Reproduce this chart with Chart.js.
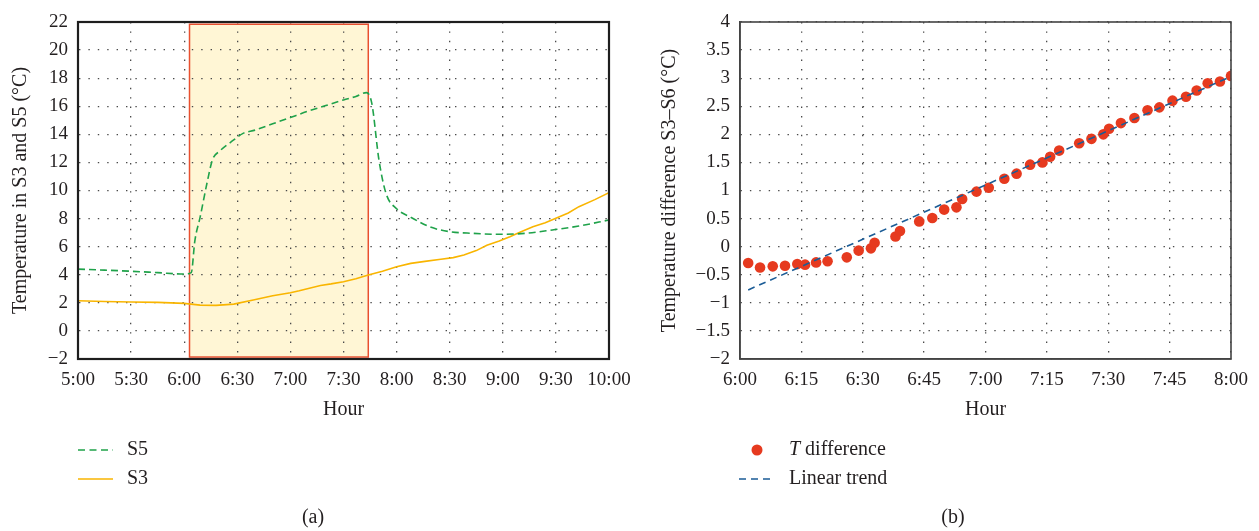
<!DOCTYPE html>
<html>
<head>
<meta charset="utf-8">
<script src="https://cdn.jsdelivr.net/npm/chart.js@4.4.1/dist/chart.umd.min.js"></script>
<style>
  html, body { margin: 0; padding: 0; background: #fff; }
  body { width: 1259px; height: 531px; position: relative; overflow: hidden; }
  #wrapA { position: absolute; left: 0; top: 0; width: 631px; height: 531px; }
  #wrapB { position: absolute; left: 640px; top: 0; width: 619px; height: 531px; }
</style>
</head>
<body>
<div id="wrapA"><canvas id="chartA"></canvas></div>
<div id="wrapB"><canvas id="chartB"></canvas></div>
<script>
// ---------- Panel (a): minutes after 5:00 ----------
const s5Minutes = [0, 15, 30, 45, 60, 64, 66, 69, 73, 76, 80, 88, 93, 100, 110, 120, 130, 140, 150, 157, 163, 166, 170, 174, 180, 188, 199, 210, 223, 238, 253, 268, 283, 300];
const s5Values  = [4.40, 4.33, 4.25, 4.15, 4.05, 4.15, 6.4, 8.1, 10.6, 12.2, 12.8, 13.6, 14.05, 14.3, 14.75, 15.2, 15.65, 16.05, 16.45, 16.7, 16.97, 16.2, 12.2, 9.8, 8.7, 8.1, 7.4, 7.07, 6.95, 6.88, 6.95, 7.19, 7.47, 7.9];
const s3Minutes = [0, 15, 30, 45, 60, 69, 78, 88, 99, 110, 120, 125, 137, 143, 150, 157, 164, 172, 180, 188, 196, 205, 212, 218, 225, 231, 238, 244, 250, 257, 264, 270, 277, 283, 292, 300];
const s3Values  = [2.15, 2.10, 2.06, 2.03, 1.96, 1.84, 1.82, 1.91, 2.2, 2.5, 2.72, 2.86, 3.24, 3.35, 3.5, 3.72, 3.98, 4.25, 4.57, 4.81, 4.95, 5.1, 5.22, 5.4, 5.72, 6.1, 6.4, 6.71, 7.05, 7.42, 7.7, 8.02, 8.4, 8.85, 9.35, 9.85];
const highlightWindow = [63, 164];        // minutes after 5:00
const highlightRange  = [-1.86, 21.84];   // °C
const tickLabelsA = ['5:00', '5:30', '6:00', '6:30', '7:00', '7:30', '8:00', '8:30', '9:00', '9:30', '10:00'];

// ---------- Panel (b): minutes after 6:00 ----------
const diffMinutes = [2.0, 4.9, 8.0, 11.0, 14.0, 15.9, 18.6, 21.4, 26.1, 29.0, 32.0, 32.9, 38.0, 39.1, 43.8, 47.0, 49.9, 52.9, 54.3, 57.8, 60.8, 64.6, 67.6, 70.9, 73.9, 75.8, 78.0, 82.9, 85.9, 88.8, 90.2, 93.1, 96.4, 99.6, 102.5, 105.7, 109.0, 111.6, 114.3, 117.3, 120.0];
const diffValues  = [-0.29, -0.37, -0.35, -0.34, -0.31, -0.32, -0.28, -0.26, -0.19, -0.07, -0.03, 0.07, 0.18, 0.28, 0.45, 0.51, 0.66, 0.70, 0.85, 0.98, 1.05, 1.21, 1.30, 1.46, 1.50, 1.60, 1.71, 1.84, 1.92, 2.00, 2.10, 2.20, 2.29, 2.43, 2.48, 2.60, 2.67, 2.78, 2.91, 2.94, 3.04];
const trendMinutes = [2, 120];
const trendValues  = [-0.77, 3.03];
const tickLabelsB = ['6:00', '6:15', '6:30', '6:45', '7:00', '7:15', '7:30', '7:45', '8:00'];

const SERIF = '"Liberation Serif", "DejaVu Serif", serif';
const TXT = '#231f20';
const zip = (xs, ys) => xs.map((x, i) => ({x: x, y: ys[i]}));
const minus = v => String(v).replace('-', '\u2212');

const frame = (color, width) => ({
  id: 'frame',
  afterDatasetsDraw(chart) {
    const a = chart.chartArea, c = chart.ctx;
    c.save();
    c.strokeStyle = color; c.lineWidth = width;
    c.strokeRect(a.left, a.top, a.right - a.left, a.bottom - a.top);
    c.restore();
  }
});

const highlight = {
  id: 'highlight',
  beforeDraw(chart) {
    const xs = chart.scales.x, ys = chart.scales.y, c = chart.ctx;
    const x1 = xs.getPixelForValue(highlightWindow[0]), x2 = xs.getPixelForValue(highlightWindow[1]);
    const y1 = ys.getPixelForValue(highlightRange[1]), y2 = ys.getPixelForValue(highlightRange[0]);
    c.save(); c.fillStyle = '#fff6d5'; c.fillRect(x1, y1, x2 - x1, y2 - y1); c.restore();
  },
  beforeDatasetsDraw(chart) {
    const xs = chart.scales.x, ys = chart.scales.y, c = chart.ctx;
    const x1 = xs.getPixelForValue(highlightWindow[0]), x2 = xs.getPixelForValue(highlightWindow[1]);
    const y1 = ys.getPixelForValue(highlightRange[1]), y2 = ys.getPixelForValue(highlightRange[0]);
    c.save(); c.strokeStyle = '#e8502f'; c.lineWidth = 1.5; c.strokeRect(x1, y1, x2 - x1, y2 - y1); c.restore();
  }
};

// custom legend + caption drawn into canvas
const legendPlugin = (items, caption, capX, textX) => ({
  id: 'customLegend',
  afterDraw(chart) {
    const c = chart.ctx;
    c.save();
    items.forEach(it => {
      if (it.type === 'line') {
        c.strokeStyle = it.color; c.lineWidth = it.width;
        c.setLineDash(it.dash || []);
        c.beginPath(); c.moveTo(it.x1, it.y); c.lineTo(it.x2, it.y); c.stroke();
        c.setLineDash([]);
      } else {
        c.fillStyle = it.color; c.beginPath(); c.arc(it.cx, it.y, it.r, 0, Math.PI * 2); c.fill();
      }
      c.fillStyle = TXT; c.textBaseline = 'middle'; c.textAlign = 'left';
      let x = textX;
      if (it.italic) {
        c.font = 'italic 20px ' + SERIF;
        c.fillText(it.italic, x, it.y);
        x += c.measureText(it.italic).width + 5;
      }
      c.font = '20px ' + SERIF;
      c.fillText(it.label, x, it.y);
    });
    c.font = '20px ' + SERIF; c.textAlign = 'center';
    c.fillText(caption, capX, 518);
    c.restore();
  }
});

const gridCommon = { color: '#4a4a4a', lineWidth: 1.3, drawTicks: false };
const borderCommon = { dash: [1.4, 8], color: '#222', width: 2 };
const fitX = s => { s.height = 63; s.paddingLeft = 0; s.paddingRight = 0; };

new Chart(document.getElementById('chartA'), {
  type: 'line',
  data: {
    datasets: [
      { label: 'S5', data: zip(s5Minutes, s5Values), borderColor: '#1fa24a', borderWidth: 1.6,
        borderDash: [7, 4], pointRadius: 0, cubicInterpolationMode: 'monotone' },
      { label: 'S3', data: zip(s3Minutes, s3Values), borderColor: '#f9b500', borderWidth: 1.6,
        pointRadius: 0, tension: 0 }
    ]
  },
  options: {
    responsive: true, maintainAspectRatio: false, animation: false,
    layout: { autoPadding: false, padding: { left: 0, top: 22, right: 22, bottom: 109 } },
    plugins: { legend: { display: false }, tooltip: { enabled: false } },
    scales: {
      x: {
        type: 'linear', min: 0, max: 300,
        afterFit: fitX,
        ticks: { stepSize: 30, padding: 10, color: TXT, font: { family: SERIF, size: 19 },
                 maxRotation: 0, callback: (v, i) => tickLabelsA[i] },
        grid: gridCommon, border: borderCommon,
        title: { display: true, text: 'Hour', color: TXT, font: { family: SERIF, size: 20 }, padding: { top: 0, bottom: 0 } }
      },
      y: {
        min: -2, max: 22,
        afterFit: s => { s.width = 78; s.paddingTop = 0; s.paddingBottom = 0; },
        ticks: { stepSize: 2, padding: 10, color: TXT, font: { family: SERIF, size: 19 }, callback: v => minus(v) },
        grid: gridCommon, border: borderCommon,
        title: { display: true, text: 'Temperature in S3 and S5 (°C)', color: TXT, font: { family: SERIF, size: 20 }, padding: { top: 9, bottom: 0 } }
      }
    }
  },
  plugins: [highlight, frame('#1e1e1e', 2.2), legendPlugin([
    { type: 'line', x1: 78, x2: 113, y: 450, color: '#1fa24a', width: 1.6, dash: [7, 4.5], label: 'S5' },
    { type: 'line', x1: 78, x2: 113, y: 479, color: '#f9b500', width: 1.6, label: 'S3' }
  ], '(a)', 313, 127)]
});

new Chart(document.getElementById('chartB'), {
  type: 'scatter',
  data: {
    datasets: [
      { label: 'T difference', data: zip(diffMinutes, diffValues), backgroundColor: '#e63a1f',
        borderWidth: 0, pointRadius: 5.3, order: 1 },
      { type: 'line', label: 'Linear trend', data: zip(trendMinutes, trendValues), borderColor: '#1b5c96',
        borderWidth: 1.6, borderDash: [7, 5], pointRadius: 0, order: 0 }
    ]
  },
  options: {
    responsive: true, maintainAspectRatio: false, animation: false,
    layout: { autoPadding: false, padding: { left: 0, top: 22, right: 28, bottom: 109 } },
    plugins: { legend: { display: false }, tooltip: { enabled: false } },
    scales: {
      x: {
        type: 'linear', min: 0, max: 120,
        afterFit: fitX,
        ticks: { stepSize: 15, padding: 10, color: TXT, font: { family: SERIF, size: 19 },
                 maxRotation: 0, callback: (v, i) => tickLabelsB[i] },
        grid: gridCommon, border: Object.assign({}, borderCommon, { color: '#444', width: 1.5 }),
        title: { display: true, text: 'Hour', color: TXT, font: { family: SERIF, size: 20 }, padding: { top: 0, bottom: 0 } }
      },
      y: {
        min: -2, max: 4,
        afterFit: s => { s.width = 100; s.paddingTop = 0; s.paddingBottom = 0; },
        ticks: { stepSize: 0.5, padding: 10, color: TXT, font: { family: SERIF, size: 19 }, callback: v => minus(v) },
        grid: gridCommon, border: Object.assign({}, borderCommon, { color: '#444', width: 1.5 }),
        title: { display: true, text: 'Temperature difference S3\u2013S6 (°C)', color: TXT, font: { family: SERIF, size: 20 }, padding: { top: 18, bottom: 0 } }
      }
    }
  },
  plugins: [frame('#444', 1.6), legendPlugin([
    { type: 'dot', cx: 117, y: 450, r: 5.5, color: '#e63a1f', italic: 'T', label: 'difference' },
    { type: 'line', x1: 99, x2: 134, y: 479, color: '#1b5c96', width: 1.6, dash: [7, 5], label: 'Linear trend' }
  ], '(b)', 313, 149)]
});
</script>
</body>
</html>
